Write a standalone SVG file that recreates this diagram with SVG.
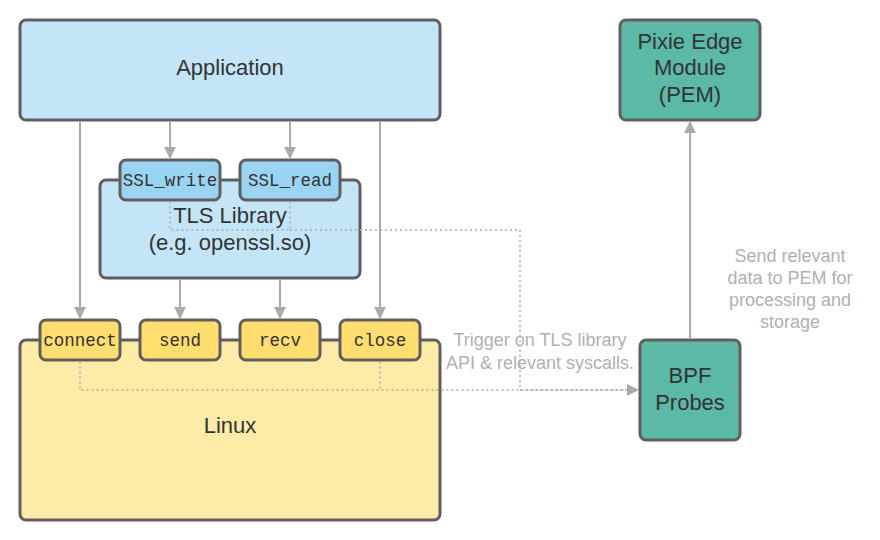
<svg xmlns="http://www.w3.org/2000/svg" width="880" height="540" viewBox="0 0 880 540">
<defs>
<marker id="ah" markerWidth="12" markerHeight="12" refX="11" refY="6" orient="auto" markerUnits="userSpaceOnUse">
<path d="M0,0 L12,6 L0,12 Z" fill="#aaaaaa"/>
</marker>
<style>
.box{stroke:#5f5f5f;stroke-width:3}
.app{fill:#c3e5f7}
.tls{fill:#c3e5f7}
.fn{fill:#9bd4f3}
.lin{fill:#ffeba8}
.sys{fill:#ffdd6f}
.grn{fill:#5cb9a6}
.t{font-family:"Liberation Sans",Arial,sans-serif;fill:#333333;text-anchor:middle;font-size:22px}
.m{font-family:"Liberation Mono","Courier New",monospace;fill:#333333;text-anchor:middle;font-size:17.5px}
.lbl{font-family:"Liberation Sans",Arial,sans-serif;fill:#b0b0b0;text-anchor:middle;font-size:18px}
.ln{fill:none;stroke:#aaaaaa;stroke-width:2}
.dot{fill:none;stroke:#aaaaaa;stroke-width:1.5;stroke-dasharray:2 3}
</style>
</defs>
<rect width="880" height="540" fill="#ffffff"/>
<g id="application">
<rect class="box app" x="20" y="20" width="420" height="100" rx="6"/>
<text class="t" x="230" y="75">Application</text>
</g>
<g id="tls-library">
<rect class="box tls" x="100" y="180" width="260" height="98" rx="6"/>
<text class="t" x="230" y="223">TLS Library</text>
<text class="t" x="230" y="250">(e.g. openssl.so)</text>
</g>
<g id="ssl-write">
<rect class="box fn" x="120" y="160" width="100" height="40" rx="6"/>
<text class="m" x="170" y="186">SSL_write</text>
</g>
<g id="ssl-read">
<rect class="box fn" x="240" y="160" width="100" height="40" rx="6"/>
<text class="m" x="290" y="186">SSL_read</text>
</g>
<g id="linux">
<rect class="box lin" x="20" y="340" width="420" height="180" rx="6"/>
<text class="t" x="230" y="433">Linux</text>
</g>
<g id="connect">
<rect class="box sys" x="40" y="320" width="80" height="40" rx="6"/>
<text class="m" x="80" y="346">connect</text>
</g>
<g id="send">
<rect class="box sys" x="140" y="320" width="80" height="40" rx="6"/>
<text class="m" x="180" y="346">send</text>
</g>
<g id="recv">
<rect class="box sys" x="240" y="320" width="80" height="40" rx="6"/>
<text class="m" x="280" y="346">recv</text>
</g>
<g id="close">
<rect class="box sys" x="340" y="320" width="80" height="40" rx="6"/>
<text class="m" x="380" y="346">close</text>
</g>
<g id="pem">
<rect class="box grn" x="620" y="20" width="140" height="100" rx="6"/>
<text class="t" x="690" y="49">Pixie Edge</text>
<text class="t" x="690" y="75">Module</text>
<text class="t" x="690" y="102">(PEM)</text>
</g>
<g id="bpf-probes">
<rect class="box grn" x="640" y="340" width="100" height="100" rx="6"/>
<text class="t" x="690" y="383">BPF</text>
<text class="t" x="690" y="410">Probes</text>
</g>
<g id="connectors">
<line class="ln" x1="80" y1="121.5" x2="80" y2="318" marker-end="url(#ah)"/>
<line class="ln" x1="170" y1="121.5" x2="170" y2="158" marker-end="url(#ah)"/>
<line class="ln" x1="290" y1="121.5" x2="290" y2="158" marker-end="url(#ah)"/>
<line class="ln" x1="380" y1="121.5" x2="380" y2="318" marker-end="url(#ah)"/>
<line class="ln" x1="180" y1="279.5" x2="180" y2="318" marker-end="url(#ah)"/>
<line class="ln" x1="280" y1="279.5" x2="280" y2="318" marker-end="url(#ah)"/>
<line class="ln" x1="690" y1="338.5" x2="690" y2="122" marker-end="url(#ah)"/>
<path class="dot" d="M170,201.5 V230 H290 V201.5 M290,230 H520 V390 H638" marker-end="url(#ah)"/>
<path class="dot" d="M80,361.5 V390 H630 M380,361.5 V390"/>
</g>
<g id="labels">
<text class="lbl" x="540" y="346">Trigger on TLS library</text>
<text class="lbl" x="540" y="369">API &amp; relevant syscalls.</text>
<text class="lbl" x="790" y="262">Send relevant</text>
<text class="lbl" x="790" y="284">data to PEM for</text>
<text class="lbl" x="790" y="306">processing and</text>
<text class="lbl" x="790" y="328">storage</text>
</g>
</svg>
